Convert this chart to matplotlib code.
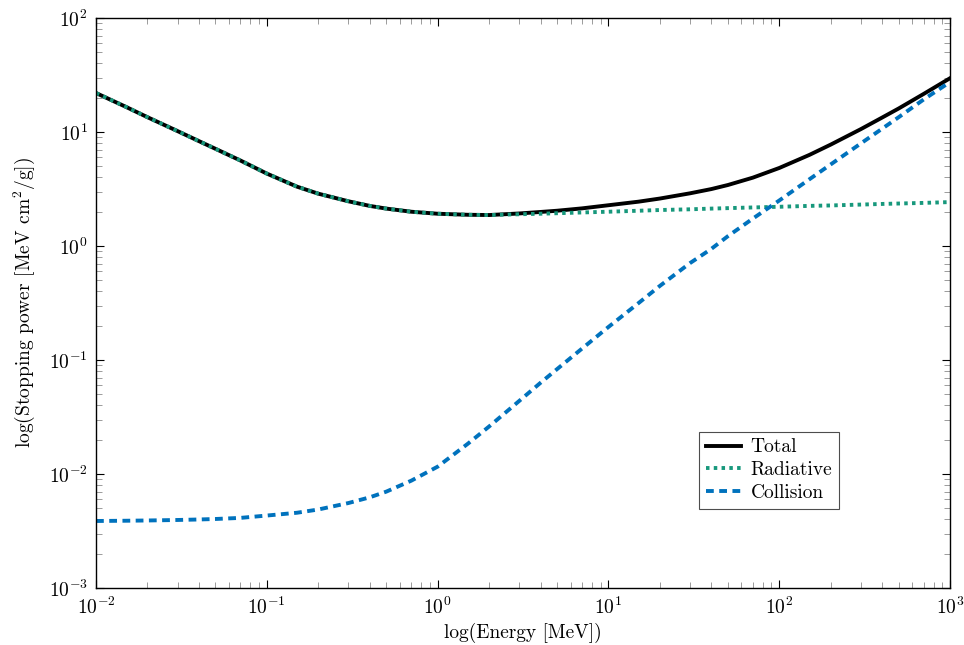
import matplotlib
matplotlib.use('Agg')
import matplotlib.pyplot as plt
from matplotlib.ticker import LogLocator, NullFormatter

plt.rcParams['font.family'] = ['cmr10', 'DejaVu Serif']
plt.rcParams['mathtext.fontset'] = 'cm'
plt.rcParams['axes.formatter.use_mathtext'] = True

# energy grid [MeV] and stopping powers [MeV cm^2/g]
energy = [0.01, 0.015, 0.02, 0.03, 0.04, 0.05, 0.07, 0.1, 0.15, 0.2, 0.3, 0.4,
          0.5, 0.7, 1, 1.5, 2, 3, 4, 5, 7, 10, 15, 20, 30, 40, 50, 70,
          100, 150, 200, 300, 400, 500, 700, 1000]
total = [22.0, 16.6, 13.5, 10.2, 8.33, 7.13, 5.63, 4.32, 3.32, 2.88, 2.47, 2.25,
         2.13, 2.0, 1.92, 1.88, 1.87, 1.93, 1.99, 2.04, 2.14, 2.28, 2.45, 2.61,
         2.90, 3.16, 3.43, 3.98, 4.84, 6.3, 7.76, 10.6, 13.4, 16.1, 21.6, 29.7]
radiative = [22.0, 16.6, 13.5, 10.2, 8.33, 7.13, 5.63, 4.32, 3.32, 2.88, 2.47, 2.25,
             2.13, 2.0, 1.92, 1.88, 1.87, 1.90, 1.92, 1.94, 1.97, 2.0, 2.04, 2.07,
             2.1, 2.13, 2.15, 2.18, 2.21, 2.25, 2.27, 2.31, 2.34, 2.36, 2.39, 2.43]
collision = [0.00387, 0.00389, 0.00391, 0.00395, 0.00399, 0.00403, 0.00412,
             0.00432, 0.00457, 0.00488, 0.00556, 0.00624, 0.0070, 0.00873,
             0.0116, 0.0184, 0.0261, 0.0437, 0.0631, 0.0832, 0.126, 0.195, 0.316,
             0.447, 0.708, 0.944, 1.22, 1.74, 2.51, 3.85, 5.2, 7.94, 10.7, 13.5,
             19.3, 27.5]

fig = plt.figure(figsize=(9.64, 6.45), dpi=100)
ax = fig.add_axes([0.0996, 0.0884, 0.886, 0.8836])

ax.plot(energy, total, color='black', lw=2.8, label='Total')
ax.plot(energy, radiative, color='#17987c', lw=2.8, linestyle=(0, (0.9, 1.1)),
        label='Radiative')
ax.plot(energy, collision, color='#0072bd', lw=2.8, linestyle=(0, (2.0, 1.4)),
        label='Collision')

ax.set_xscale('log')
ax.set_yscale('log')
ax.set_xlim(1e-2, 1e3)
ax.set_ylim(1e-3, 1e2)

ax.xaxis.set_major_locator(LogLocator(base=10, numticks=12))
ax.yaxis.set_major_locator(LogLocator(base=10, numticks=12))
ax.xaxis.set_minor_locator(LogLocator(base=10, subs=range(2, 10), numticks=12))
ax.yaxis.set_minor_locator(LogLocator(base=10, subs=range(2, 10), numticks=12))
ax.xaxis.set_minor_formatter(NullFormatter())
ax.yaxis.set_minor_formatter(NullFormatter())

ax.tick_params(which='both', direction='in', top=True, right=True)
ax.tick_params(which='major', length=6, width=0.8, labelsize=14, pad=6)
ax.tick_params(which='minor', length=4, width=0.6, color='0.55')
for s in ax.spines.values():
    s.set_linewidth(1.0)

ax.set_xlabel('log(Energy [MeV])', fontsize=14, labelpad=4)
ax.set_ylabel(r'log(Stopping power [MeV cm$^2$/g])', fontsize=14, labelpad=8)

leg = ax.legend(loc='lower left', bbox_to_anchor=(0.706, 0.139), fontsize=14,
                fancybox=False, framealpha=1, edgecolor='0.3',
                handlelength=1.8, handletextpad=0.5, borderpad=0.35,
                labelspacing=0.25, borderaxespad=0)
leg.get_frame().set_linewidth(0.8)

fig.savefig('out.png', dpi=100)
